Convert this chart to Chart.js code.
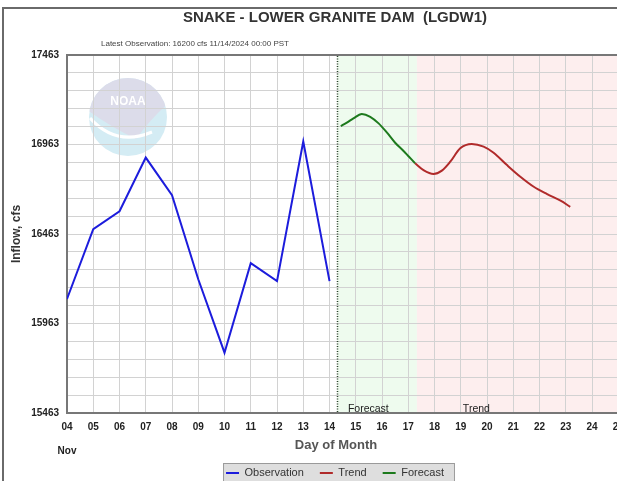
<!DOCTYPE html>
<html><head><meta charset="utf-8">
<script src="https://cdn.jsdelivr.net/npm/chart.js@4.4.1/dist/chart.umd.min.js"></script>
<style>
html,body{margin:0;padding:0;background:#fff;overflow:hidden;width:617px;height:481px;}
#wrap{position:absolute;left:0;top:0;width:670px;height:490px;}
canvas{display:block;}
</style></head><body>
<div id="wrap"><canvas id="c" width="670" height="490"></canvas></div>
<script>
// ---- data ----
const obsDays = [4, 5, 6, 7, 8, 9, 10, 11, 12, 13, 14];
const obsValues = [16100, 16490, 16590, 16890, 16680, 16210, 15800, 16300, 16200, 16980, 16200];

const forecastDays = [14.43, 14.66, 14.91, 15.23, 15.55, 15.87, 16.19, 16.5, 16.82, 17.26];
const forecastValues = [17066, 17085, 17109, 17133, 17118, 17081, 17029, 16973, 16927, 16858];

const trendDays = [17.26, 17.58, 17.96, 18.28, 18.6, 18.98, 19.42, 19.87, 20.25, 20.76, 21.27, 21.78, 22.29, 22.8, 23.17];
const trendValues = [16858, 16820, 16798, 16817, 16867, 16942, 16966, 16951, 16917, 16848, 16783, 16727, 16686, 16649, 16615];

const dayTickLabels = ['04','05','06','07','08','09','10','11','12','13','14','15','16','17','18','19','20','21','22','23','24','25','26'];
const yTickLabels = ['15463', '15963', '16463', '16963', '17463'];
const yMin = 15463, yMax = 17463, yGridStep = 100;
const xMin = 4, xMax = 26.97;
const nowDay = 14.29;
const forecastBand = [14.29, 17.33];
const trendBand = [17.33, 26.97];
const forecastLabelDay = 14.7;
const trendLabelDay = 19.08;

const FONT = "'Liberation Sans', Arial, sans-serif";
Chart.defaults.font.family = FONT;

const toXY = (xs, ys) => xs.map((d, i) => ({x: d, y: ys[i]}));

const decor = {
  id: 'decor',
  beforeDraw(chart) {
    const {ctx, chartArea: a, scales: {x}} = chart;
    ctx.save();
    ctx.fillStyle = '#fff';
    ctx.fillRect(0, 0, chart.width, chart.height);
    // outer frame
    ctx.strokeStyle = '#6a6a6a'; ctx.lineWidth = 2;
    ctx.strokeRect(3, 8, chart.width + 40, chart.height + 40);
    // bands
    const fx0 = x.getPixelForValue(forecastBand[0]), fx1 = x.getPixelForValue(forecastBand[1]);
    const tx0 = x.getPixelForValue(trendBand[0]), tx1 = x.getPixelForValue(trendBand[1]);
    ctx.fillStyle = '#eefbee';
    ctx.fillRect(fx0, a.top, fx1 - fx0, a.bottom - a.top);
    ctx.fillStyle = '#fdeeee';
    ctx.fillRect(tx0, a.top, tx1 - tx0, a.bottom - a.top);
    // NOAA logo (faded)
    const cx = a.left + 61, cy = a.top + 62, r = 39;
    ctx.save();
    ctx.beginPath(); ctx.arc(cx, cy, r, 0, Math.PI * 2); ctx.closePath();
    ctx.fillStyle = '#d4ecf4'; ctx.fill();
    ctx.clip();
    ctx.beginPath();
    ctx.moveTo(cx - 45, cy - 10);
    ctx.quadraticCurveTo(cx - 18, cy + 10, cx + 8, cy + 22);
    ctx.quadraticCurveTo(cx + 24, cy + 0, cx + 45, cy - 18);
    ctx.lineTo(cx + 45, cy - 50); ctx.lineTo(cx - 45, cy - 50); ctx.closePath();
    ctx.fillStyle = '#dcdcea'; ctx.fill();
    ctx.beginPath();
    ctx.moveTo(cx - 38, cy + 1);
    ctx.quadraticCurveTo(cx - 12, cy + 30, cx + 24, cy + 15);
    ctx.strokeStyle = '#ffffff'; ctx.lineWidth = 3; ctx.stroke();
    ctx.restore();
    ctx.fillStyle = '#ffffff';
    ctx.font = 'bold 12px ' + FONT;
    ctx.textAlign = 'center'; ctx.textBaseline = 'middle';
    ctx.fillText('NOAA', cx, cy - 15);
    // legend box background
    const hb = chart.legend && chart.legend.legendHitBoxes;
    if (hb && hb.length) {
      const l = Math.min(...hb.map(h => h.left));
      const rr = Math.max(...hb.map(h => h.left + h.width));
      const t = hb[0].top;
      ctx.fillStyle = '#dedede'; ctx.strokeStyle = '#9a9a9a'; ctx.lineWidth = 1;
      ctx.fillRect(l - 3, t - 4.5, rr - l + 13, 30);
      ctx.strokeRect(l - 3 + 0.5, t - 4.5 + 0.5, rr - l + 13, 30);
    }
    ctx.restore();
  },
  beforeDatasetsDraw(chart) {
    const {ctx, chartArea: a, scales: {x}} = chart;
    ctx.save();
    const nx = Math.round(x.getPixelForValue(nowDay)) + 0.5;
    ctx.strokeStyle = '#2a3f2a'; ctx.lineWidth = 1.5; ctx.setLineDash([1, 1.5]);
    ctx.beginPath(); ctx.moveTo(nx, a.top + 1); ctx.lineTo(nx, a.bottom - 1); ctx.stroke();
    ctx.restore();
  },
  afterDraw(chart) {
    const {ctx, chartArea: a, scales: {x}} = chart;
    ctx.save();
    ctx.fillStyle = '#222';
    ctx.font = '10.5px ' + FONT;
    ctx.textAlign = 'left'; ctx.textBaseline = 'alphabetic';
    ctx.fillText('Forecast', x.getPixelForValue(forecastLabelDay), a.bottom - 1);
    ctx.fillText('Trend', x.getPixelForValue(trendLabelDay), a.bottom - 1);
    // subtitle
    ctx.fillStyle = '#444';
    ctx.font = '8px ' + FONT;
    ctx.textBaseline = 'middle';
    ctx.fillText('Latest Observation: 16200 cfs 11/14/2024 00:00 PST', 101, 44);
    // x axis title
    ctx.fillStyle = '#555';
    ctx.font = 'bold 13px ' + FONT;
    ctx.textAlign = 'center';
    ctx.fillText('Day of Month', 336, 445);
    // month label
    ctx.fillStyle = '#222';
    ctx.font = 'bold 10px ' + FONT;
    ctx.fillText('Nov', x.getPixelForValue(xMin), 451);
    ctx.restore();
  }
};

new Chart(document.getElementById('c'), {
  type: 'line',
  data: {
    datasets: [
      {label: 'Observation', data: toXY(obsDays, obsValues), borderColor: '#1c1cdc', backgroundColor: '#1c1cdc', borderWidth: 2, pointRadius: 0, tension: 0},
      {label: 'Trend', data: toXY(trendDays, trendValues), borderColor: '#b02a2a', backgroundColor: '#b02a2a', borderWidth: 2, pointRadius: 0, tension: 0.4, cubicInterpolationMode: 'monotone'},
      {label: 'Forecast', data: toXY(forecastDays, forecastValues), borderColor: '#1d7a1d', backgroundColor: '#1d7a1d', borderWidth: 2, pointRadius: 0, tension: 0.4, cubicInterpolationMode: 'monotone'}
    ]
  },
  options: {
    responsive: false,
    animation: false,
    devicePixelRatio: 1,
    layout: {padding: {top: 0, left: 0, right: 0, bottom: 1.5}},
    plugins: {
      title: {display: true, text: 'SNAKE - LOWER GRANITE DAM  (LGDW1)', color: '#333', font: {size: 15, weight: 'bold'}, padding: {top: 9, bottom: 28}},
      legend: {
        position: 'bottom',
        labels: {usePointStyle: true, pointStyle: 'line', pointStyleWidth: 13, padding: 16, color: '#333', font: {size: 11}}
      },
      tooltip: {enabled: false}
    },
    scales: {
      x: {
        type: 'linear', min: xMin, max: xMax,
        afterBuildTicks: s => { s.ticks = dayTickLabels.map((_, i) => ({value: xMin + i})); },
        afterFit: s => { s.height = 38.5; },
        ticks: {padding: 8, autoSkip: false, maxRotation: 0, color: '#222', font: {size: 10, weight: 'bold'},
          callback: v => dayTickLabels[Math.round(v - xMin)]},
        grid: {color: '#d2d2d2', drawTicks: false},
        border: {color: '#777', width: 2}
      },
      y: {
        type: 'linear', min: yMin, max: yMax,
        afterBuildTicks: s => { const t = []; for (let v = yMin; v <= yMax; v += yGridStep) t.push({value: v}); s.ticks = t; },
        afterFit: s => { s.width = 67; },
        ticks: {padding: 8, autoSkip: false, color: '#222', font: {size: 10, weight: 'bold'},
          callback: v => yTickLabels.includes(String(v)) ? String(v) : ''},
        grid: {drawTicks: false,
          color: c => (c.tick && c.tick.value === yMax) ? '#777' : '#d2d2d2',
          lineWidth: c => (c.tick && c.tick.value === yMax) ? 2 : 1},
        border: {color: '#777', width: 2},
        title: {display: true, text: 'Inflow, cfs', color: '#333', font: {size: 12, weight: 'bold'}, padding: {top: 9, bottom: 0}}
      }
    }
  },
  plugins: [decor]
});
</script>
</body></html>
